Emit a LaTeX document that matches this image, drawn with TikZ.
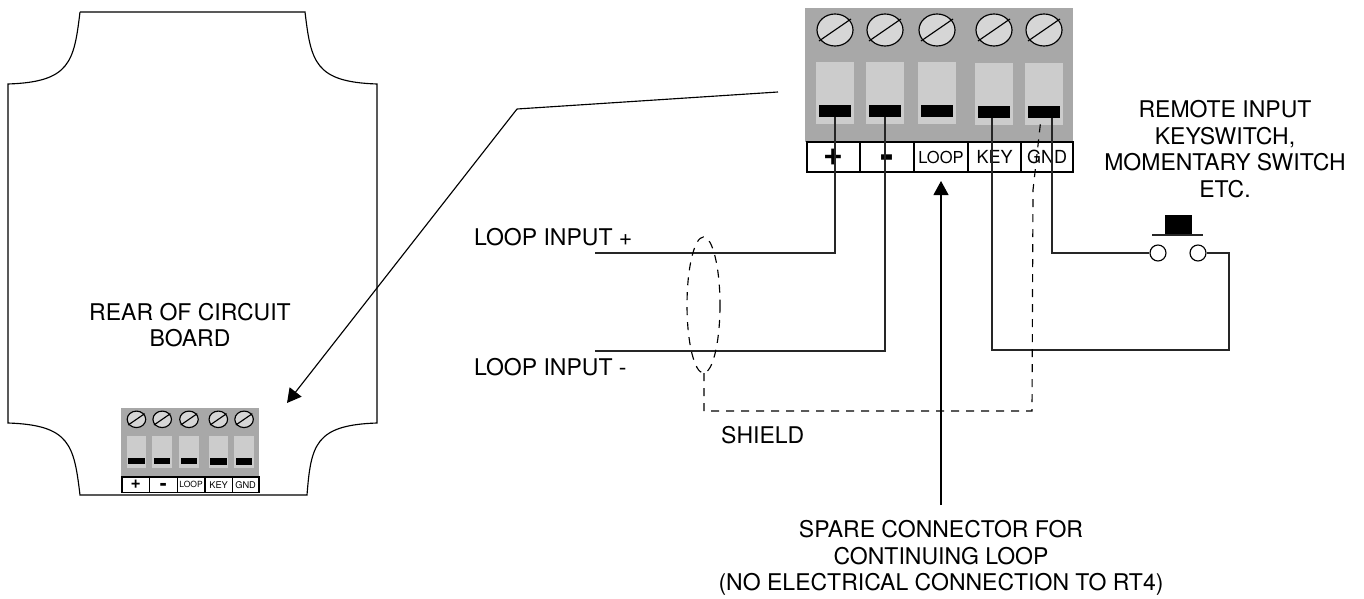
\documentclass[tikz,border=0pt]{standalone}
\usepackage{fontspec}
\setmainfont{TeX Gyre Heros}
\usetikzlibrary{arrows.meta}
\definecolor{blockgray}{gray}{0.66}
\definecolor{slotgray}{gray}{0.80}
\definecolor{screwgray}{gray}{0.84}
\tikzstyle{wire} = [draw, line width=.5mm, -, black!85]
\tikzstyle{thin wire} = [draw, line width=.4mm, -, black]
\tikzstyle{shield} = [draw, line width=.4mm, dash pattern=on 8pt off 7pt, black]
\tikzstyle{pointer} = [thin wire, -{Triangle[length=14pt,width=15pt]}]
\tikzstyle{contact} = [rectangle, fill=black, minimum width=32pt, minimum height=12pt, inner sep=0pt]
\tikzstyle{slot} = [rectangle, fill=slotgray, minimum width=38pt, minimum height=62pt, inner sep=0pt]
\tikzstyle{screw} = [draw, line width=.4mm, fill=screwgray]
\tikzstyle{cell} = [rectangle, draw=black, line width=.4mm, fill=white, minimum height=30pt, inner sep=0pt, font=\fontsize{16.5}{16.5}\selectfont]
\tikzstyle{label} = [inner sep=0pt, align=center, font=\fontsize{23}{26.7}\selectfont]
\tikzstyle{terminal} = [circle, draw=black, line width=.4mm, fill=white, minimum size=16pt, inner sep=0pt]

% terminal block, origin at its top left corner
\newcommand{\termblock}[1]{
	\fill[blockgray] (0, 0) rectangle (268, 134);
	\foreach \i/\x/\y in {1/30/0, 2/80/0, 3/132/0, 4/189/1, 5/239/1} {
		\node[slot] (#1_slot_\i) at (\x, 85+\y) {};
		\node[contact] (#1_\i) at (\x, 103+\y) {};
		\draw[screw] (\x, 22) ellipse (18 and 16);
		\draw[thin wire] (\x-16, 33) -- (\x+16, 11);
	}
	\node[cell, minimum width=53pt] (#1_plus) at (28.5, 149) {\fontsize{34}{34}\selectfont\bfseries +};
	\node[cell, minimum width=54pt, text height=22pt] (#1_minus) at (82, 149) {\fontsize{40}{40}\selectfont\bfseries -};
	\node[cell, minimum width=54pt] (#1_loop) at (136, 149) {LOOP};
	\node[cell, minimum width=53pt] (#1_key) at (189.5, 149) {\fontsize{18}{18}\selectfont KEY};
	\node[cell, minimum width=52pt] (#1_gnd) at (242, 149) {\fontsize{18}{18}\selectfont GND};
}

\begin{document}
\begin{tikzpicture}[x=1pt, y=-1pt]
	\useasboundingbox (0, 0) rectangle (1364, 599);

	% rear of board
	\draw[thin wire] (80, 12) -- (305, 12)
		.. controls (311, 62) and (315, 82) .. (377, 84) -- (377, 423)
		.. controls (315, 425) and (311, 445) .. (307, 495) -- (80, 495)
		.. controls (74, 445) and (70, 425) .. (8, 423) -- (8, 84)
		.. controls (70, 82) and (74, 62) .. (80, 12);

	\begin{scope}[shift={(121, 408)}, scale=.515, transform shape]
		\termblock{s}
	\end{scope}
	\begin{scope}[shift={(805, 8)}]
		\termblock{b}
	\end{scope}

	\node[label] (rear) at (190, 325) {REAR OF CIRCUIT\\BOARD};
	\node[label, anchor=base west] (in_plus) at (474, 245) {LOOP INPUT +};
	\node[label, anchor=base west] (in_minus) at (474, 375) {LOOP INPUT -};
	\node[label, anchor=base west] (shield_text) at (721, 443) {SHIELD};
	\node[label] (spare) at (941, 558) {SPARE CONNECTOR FOR\\CONTINUING LOOP\\(NO ELECTRICAL CONNECTION TO RT4)};
	\node[label] (remote) at (1225, 149) {REMOTE INPUT\\KEYSWITCH,\\MOMENTARY SWITCH\\ETC.};

	% switch
	\node[terminal] (sw_a) at (1158, 253) {};
	\node[terminal] (sw_b) at (1198, 253) {};
	\node[rectangle, fill=black, minimum width=27pt, minimum height=20pt, inner sep=0pt] (sw_cap) at (1178.5, 225) {};
	\coordinate (sw_l) at (1152, 235);
	\coordinate (sw_r) at (1203, 235);
	\draw[wire] (sw_l) -- (sw_r);

	% wiring
	\coordinate (w_plus) at (595, 253);
	\coordinate (w_minus) at (595, 351);
	\coordinate (lead) at (778, 92);
	\coordinate (lead_bend) at (517, 109);
	\coordinate (lead_end) at (287, 403);
	\coordinate (loop_end) at (941, 505);
	\coordinate (loop_tip) at (941, 181);
	\coordinate (sh_a) at (704, 373);
	\coordinate (sh_b) at (704, 411);
	\coordinate (sh_c) at (1032, 411);
	\coordinate (sh_d) at (1033, 190);
	\coordinate (key_a) at (1229, 350);
	\coordinate (key_b) at (1229, 253);
	\coordinate (gnd_a) at (1052, 253);
	\coordinate (key_c) at (992, 350);

	\draw[wire] (w_plus) -| (b_1);
	\draw[wire] (w_minus) -| (b_2);
	\draw[wire] (sw_a) -- (gnd_a) -- ([xshift=8pt]b_5.south);
	\draw[wire] (sw_b) -- (key_b) -- (key_a) -- (key_c) -- ([xshift=-2pt]b_4.south);
	\draw[thin wire] (lead) -- (lead_bend);
	\draw[pointer] (lead_bend) -- (lead_end);
	\draw[pointer] (loop_end) -- (loop_tip);

	% shield
	\draw[shield] (703.5, 305) ellipse (16.5 and 68);
	\draw[shield] (sh_a) -- (sh_b) -- (sh_c) -- (sh_d) -- ([xshift=-3pt]b_5.south);
\end{tikzpicture}
\end{document}
